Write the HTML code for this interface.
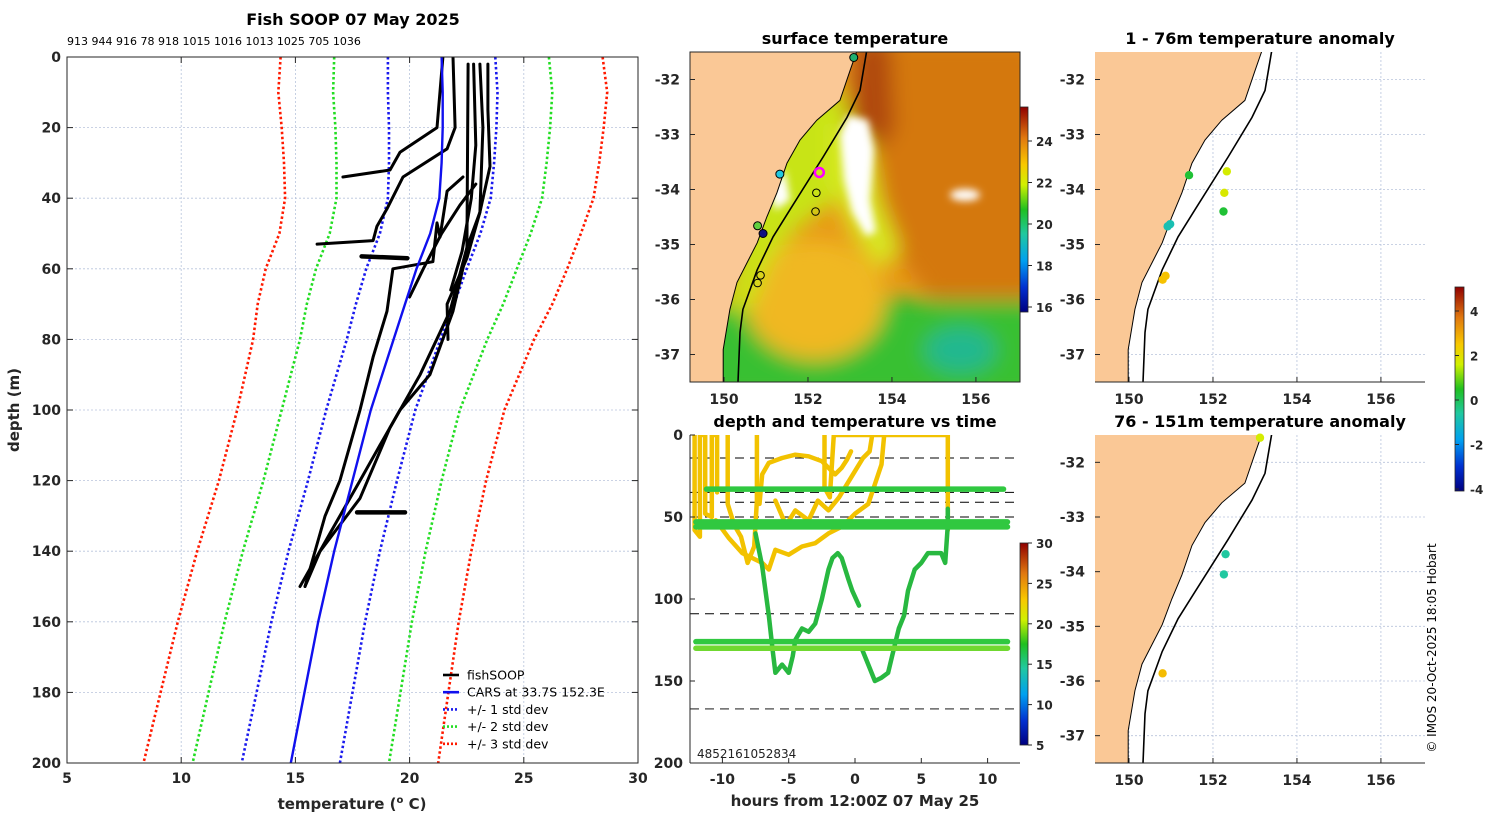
<!DOCTYPE html>
<html><head><meta charset="utf-8">
<style>
html,body{margin:0;padding:0;background:#fff;}
svg{display:block;font-family:"DejaVu Sans","Liberation Sans",sans-serif;}
.tk{font-size:14px;font-weight:bold;fill:#262626;}
.ttl{font-size:16px;font-weight:bold;fill:#000;}
.lab{font-size:15px;font-weight:bold;fill:#262626;}
</style></head>
<body>
<svg id="fig" width="1500" height="820" viewBox="0 0 1500 820" xmlns="http://www.w3.org/2000/svg">
<defs>
<clipPath id="clipP"><rect x="67" y="57" width="571" height="706"/></clipPath>
<clipPath id="clipSST"><rect x="690" y="52" width="330" height="330"/></clipPath>
<clipPath id="clipA1"><rect x="1095" y="52" width="330" height="330"/></clipPath>
<clipPath id="clipA2"><rect x="1095" y="435" width="330" height="328"/></clipPath>
<clipPath id="clipT"><rect x="690" y="435" width="330" height="328"/></clipPath>
<filter id="blur8"><feGaussianBlur stdDeviation="10"/></filter>
<filter id="blur4"><feGaussianBlur stdDeviation="4"/></filter>
<linearGradient id="sstBar" x1="0" y1="1" x2="0" y2="0">
<stop offset="0" stop-color="#000080"/><stop offset="0.12" stop-color="#0030d0"/><stop offset="0.25" stop-color="#00a0f0"/><stop offset="0.38" stop-color="#20c8a0"/><stop offset="0.5" stop-color="#20c020"/><stop offset="0.62" stop-color="#d0f000"/><stop offset="0.72" stop-color="#f8c800"/><stop offset="0.85" stop-color="#e07810"/><stop offset="1" stop-color="#900000"/>
</linearGradient>
</defs>
<g id="root"></g>
</svg>
<script>
// ---------------- data ----------------
const depthTicks=[0,20,40,60,80,100,120,140,160,180,200];
const tempTicks=[5,10,15,20,25,30];
const carsDepth=[0,10,20,30,40,50,60,70,80,90,100,120,140,160,180,200];
const carsTemp=[21.4,21.45,21.45,21.4,21.3,20.9,20.3,19.8,19.3,18.8,18.3,17.5,16.7,16.0,15.4,14.8];
const carsStd=[2.35,2.4,2.35,2.3,2.25,2.2,2.2,2.15,2.05,2.0,1.95,1.95,2.0,2.05,2.1,2.15];
const castIds="913 944 916 78 918 1015 1016 1013 1025 705 1036";
const prof1T=[21.46,21.2,19.58,19.14,17.08];const prof1D=[0,20,27,32,34];
const prof2T=[21.9,21.99,21.64,19.71,19.01,18.57,18.4,15.95];const prof2D=[0,20,26,34,43,48,52,53];
const prof3T=[22.56,22.51,21.9,20.89,19.58,18.7,17.83,16.51,15.64,15.2];const prof3D=[2,55,72,90,100,110,120,135,145,150];
const prof4T=[23.08,23.21,23.08,22.51,21.77,20.46,19.14,17.83,16.08,15.42];const prof4D=[2,20,44,54,72,90,105,125,140,150];
const prof5T=[23.43,23.43,23.52,23.08,22.51,21.64,21.68];const prof5D=[2,15,31,44,57,70,80];
const prof6T=[22.34,21.64,21.33,21.2,21.02,19.27,19.01,18.4,17.83,16.95,16.3,15.42];const prof6D=[34,38,51,47,58,60,72,85,100,120,130,150];
const prof7T=[17.9,19.9];const prof7D=[56.5,57];
const prof8T=[17.7,19.8];const prof8D=[129,129];
const prof9T=[22.8,22.9,22.7,22.3,21.8];const prof9D=[2,25,40,55,66];
const prof10T=[22.9,22.2,21.4,20.6,20.0];const prof10D=[36,42,50,60,68];
// time-depth panel
const hourTicks=[-10,-5,0,5,10];
const tdDepthTicks=[0,50,100,150,200];
const dashDepths=[14,35,41,50,109];
const dashGrey=[167];
const bandDepths=[33,53,56,126,130];
const bandStartH=[-11.2,-12,-12,-12,-12];
const bandEndH=[11.2,11.5,11.5,11.5,11.5];
const greenAH=[-7.5,-7,-6.5,-6.2,-6,-5.5,-5,-4.7,-4.5,-4,-3.5,-3,-2.5,-2,-1.7,-1.3,-1,-0.5,-0.2,0.3];
const greenAD=[60,80,110,132,145,140,145,135,125,118,120,115,100,82,75,72,75,88,95,104];
const greenBH=[0.5,1,1.5,2,2.5,3,3.3,3.7,4,4.5,5,5.5,6,6.5,6.8,7,7];
const greenBD=[130,140,150,148,145,128,118,110,95,82,78,72,72,72,78,55,45];
const yellowAH=[-12.1,-12.1,-11.7,-11.7,-11.3,-11.3,-10.8,-10.8,-10.4,-10.4];
const yellowAD=[0,58,62,0,0,48,50,0,0,35];
const yellowBH=[-9.6,-9.6,-9.1,-8.6,-8.1,-7.6,-7.4,-7.4];
const yellowBD=[0,42,55,62,78,68,40,0];
const yellowCH=[-7.2,-7,-6.5,-5.5,-4.5,-3.5,-2.5,-2,-1.5,-1,-0.6,-0.3];
const yellowCD=[42,24,17,14,12,13,16,20,24,20,15,10];
const yellowDH=[-10.5,-9.5,-8.5,-7.5,-7,-6.5,-6,-5,-4,-3,-2,-1,0,1,1.5,2,2.2];
const yellowDD=[52,63,72,76,78,82,70,73,68,66,60,56,48,42,30,18,0];
const yellowEH=[-6,-5.2,-4.5,-3.5,-2.8,-2,-1.2,-0.6,0,0.6,1.1,1.3];
const yellowED=[40,55,46,52,40,46,38,30,22,14,10,0];
const yellowFH=[-2.3,-2.3,-1.9,-1.6,7,7];
const yellowFD=[0,32,38,0,0,58];
// maps
const coastLon=[153.17,153.0,152.76,152.21,151.81,151.5,151.26,151.02,150.79,150.55,150.31,150.14,149.98,149.98];
const coastLat=[-31.47,-31.84,-32.38,-32.74,-33.10,-33.52,-34.06,-34.5,-34.97,-35.33,-35.69,-36.18,-36.91,-37.55];
const isoLon=[153.4,153.24,152.93,152.36,151.57,151.17,150.79,150.45,150.38,150.33];
const isoLat=[-31.47,-32.2,-32.69,-33.41,-34.37,-34.86,-35.46,-36.18,-36.6,-37.55];
const lonTicks=[150,152,154,156];
const latTicks=[-32,-33,-34,-35,-36,-37];
const sstDotLon=[153.09,151.33,150.8,150.93];
const sstDotLat=[-31.6,-33.72,-34.66,-34.8];
const sstDotCol=["#20b070","#20c8e0","#60d040","#101080"];
const sstRingLon=[152.27,152.2,152.18,150.87,150.8];
const sstRingLat=[-33.69,-34.06,-34.4,-35.56,-35.7];
const sstRingCol=["#ff00ff","#000","#000","#000","#000"];
const sstTicks=[16,18,20,22,24];
const anomTicks=[-4,-2,0,2,4];
const a1Lon=[152.33,151.43,152.27,152.25,150.98,150.92,150.87,150.8];
const a1Lat=[-33.67,-33.74,-34.06,-34.4,-34.63,-34.67,-35.57,-35.64];
const a1Val=[1.5,0,1.6,0,-1.3,-1.3,2.5,2.5];
const a2Lon=[153.12,152.3,152.26,150.8];
const a2Lat=[-31.55,-33.68,-34.05,-35.86];
const a2Val=[1.5,-1.0,-1.0,2.6];

// ------------- helpers -------------
const NS="http://www.w3.org/2000/svg";
const root=document.getElementById('root');
function el(tag,attrs,parent){const e=document.createElementNS(NS,tag);for(const k in attrs)e.setAttribute(k,attrs[k]);(parent||root).appendChild(e);return e;}
function txt(x,y,s,cls,anchor,parent){const t=el('text',{x:x,y:y,class:cls,'text-anchor':anchor||'middle'},parent);t.textContent=s;return t;}
function jet(v,lo,hi){const f=Math.max(0,Math.min(1,(v-lo)/(hi-lo)));
 const stops=[[0,[0,0,128]],[0.12,[0,48,208]],[0.25,[0,160,240]],[0.38,[32,200,160]],[0.5,[32,192,32]],[0.62,[208,240,0]],[0.72,[248,200,0]],[0.85,[224,120,16]],[1,[144,0,0]]];
 for(let i=1;i<stops.length;i++){if(f<=stops[i][0]){const a=stops[i-1],b=stops[i];const t=(f-a[0])/(b[0]-a[0]);const c=a[1].map((v,j)=>Math.round(v+(b[1][j]-v)*t));return `rgb(${c[0]},${c[1]},${c[2]})`;}}
 return 'rgb(144,0,0)';}

// ------------- main profile chart -------------
const PX0=67,PX1=638,PY0=57,PY1=763;
const xT=t=>PX0+(t-5)/25*(PX1-PX0);
const yD=d=>PY0+d/200*(PY1-PY0);
const gMain=el('g',{});


const gGrid=el('g',{},gMain);


tempTicks.forEach(t=>{if(t>5&&t<30)el('line',{x1:xT(t),x2:xT(t),y1:PY0,y2:PY1,stroke:'#b8c4dc','stroke-width':0.8,'stroke-dasharray':'2,2'},gGrid);});
depthTicks.forEach(d=>{if(d>0&&d<200)el('line',{x1:PX0,x2:PX1,y1:yD(d),y2:yD(d),stroke:'#b8c4dc','stroke-width':0.8,'stroke-dasharray':'2,2'},gGrid);});
const gS=el('g',{'clip-path':'url(#clipP)'},gMain);
function profPath(T,D){return T.map((t,i)=>(i?'L':'M')+xT(t).toFixed(1)+','+yD(D[i]).toFixed(1)).join(' ');}
[[3,'#ff1a00','std3'],[2,'#22dd22','std2'],[1,'#1a1aee','std1']].forEach(([k,c,n])=>{
 [-1,1].forEach(s=>{const p=el('path',{d:profPath(carsTemp.map((t,i)=>t+s*k*carsStd[i]),carsDepth),fill:'none',stroke:c,'stroke-width':2.6,'stroke-dasharray':'2.5,2.5'},gS);
 
 });
});
const profs=[[prof1T,prof1D],[prof2T,prof2D],[prof3T,prof3D],[prof4T,prof4D],[prof5T,prof5D],[prof6T,prof6D],[prof7T,prof7D],[prof8T,prof8D],[prof9T,prof9D],[prof10T,prof10D]];
profs.forEach((p,i)=>{const e=el('path',{d:profPath(p[0],p[1]),fill:'none',stroke:'#000','stroke-width':(i>=6&&i<=7)?4.5:3,'stroke-linejoin':'round','stroke-linecap':'round'},gS);
 
 });
const carsLine=el('path',{d:profPath(carsTemp,carsDepth),fill:'none',stroke:'#1010ee','stroke-width':2.4},gS);


el('rect',{x:PX0,y:PY0,width:PX1-PX0,height:PY1-PY0,fill:'none',stroke:'#262626','stroke-width':1},gMain);
depthTicks.forEach(d=>{el('line',{x1:PX0,x2:PX0+6,y1:yD(d),y2:yD(d),stroke:'#262626'},gMain);el('line',{x1:PX1,x2:PX1-6,y1:yD(d),y2:yD(d),stroke:'#262626'},gMain);txt(PX0-6,yD(d)+5,String(d),'tk','end',gMain);});
tempTicks.forEach(t=>{el('line',{x1:xT(t),x2:xT(t),y1:PY1,y2:PY1-6,stroke:'#262626'},gMain);el('line',{x1:xT(t),x2:xT(t),y1:PY0,y2:PY0+6,stroke:'#262626'},gMain);txt(xT(t),PY1+20,String(t),'tk','middle',gMain);});
const mt=txt(353,26,'Fish SOOP 07 May 2025','ttl','middle',gMain);mt.setAttribute('y','26');
mt.setAttribute('y','25');
const ci=txt(67,45,castIds,'','start',gMain);ci.setAttribute('style','font-size:11px;fill:#000');
const xl=el('text',{x:352,y:809,class:'lab','text-anchor':'middle'},gMain);xl.innerHTML='temperature (<tspan font-size="10" dy="-6">o</tspan><tspan dy="6"> C)</tspan>';
const yl=txt(0,0,'depth (m)','lab','middle',gMain);yl.setAttribute('transform','translate(19,410) rotate(-90)');
// legend
const gL=el('g',{},gMain);
const legItems=[['fishSOOP','#000',null],['CARS at 33.7S 152.3E','#1010ee',null],['+/- 1 std dev','#1a1aee','2,2'],['+/- 2 std dev','#22dd22','2,2'],['+/- 3 std dev','#ff1a00','2,2']];
legItems.forEach((it,i)=>{const y=675+i*17.2;const g=el('g',{},gL);
 const a={x1:443,x2:459,y1:y,y2:y,stroke:it[1],'stroke-width':2.6};if(it[2])a['stroke-dasharray']=it[2];el('line',a,g);
 const t=txt(467,y+4.5,it[0],'','start',g);t.setAttribute('style','font-size:12.5px;fill:#000');});

// ------------- map helpers -------------
function mapper(x0,y0,w,h){const lo0=149.19,lo1=157.05,la0=-31.5,la1=-37.5;return{x:l=>x0+(l-lo0)/(lo1-lo0)*w,y:l=>y0+(la0-l)/(la0-la1)*h};}
function coastPaths(m,g,landFill){
 let d='M'+m.x(149.0)+','+m.y(-31.3);coastLon.forEach((l,i)=>{d+=' L'+m.x(l).toFixed(1)+','+m.y(coastLat[i]).toFixed(1);});d+=' L'+m.x(149.0)+','+m.y(-37.7)+' Z';
 const land=el('path',{d:d,fill:landFill,stroke:'#000','stroke-width':1},g);
 const iso=el('path',{d:isoLon.map((l,i)=>(i?'L':'M')+m.x(l).toFixed(1)+','+m.y(isoLat[i]).toFixed(1)).join(' '),fill:'none',stroke:'#000','stroke-width':1.6},g);
 }
function mapAxes(m,x0,y0,w,h,g,box){
 if(box)el('rect',{x:x0,y:y0,width:w,height:h,fill:'none',stroke:'#262626'},g);else el('line',{x1:x0,x2:x0+w,y1:y0+h,y2:y0+h,stroke:'#262626'},g);
 lonTicks.forEach(l=>{el('line',{x1:m.x(l),x2:m.x(l),y1:y0+h,y2:y0+h-5,stroke:'#262626'},g);txt(m.x(l),y0+h+22,String(l),'tk','middle',g);});
 latTicks.forEach(l=>{if(m.y(l)>y0&&m.y(l)<y0+h){el('line',{x1:x0,x2:x0+5,y1:m.y(l),y2:m.y(l),stroke:'#262626'},g);txt(x0-10,m.y(l)+5,String(l),'tk','end',g);}});}
function mapGrid(m,x0,y0,w,h,g){lonTicks.forEach(l=>el('line',{x1:m.x(l),x2:m.x(l),y1:y0,y2:y0+h,stroke:'#b8c4dc','stroke-width':0.8,'stroke-dasharray':'2,2'},g));
 latTicks.forEach(l=>el('line',{x1:x0,x2:x0+w,y1:m.y(l),y2:m.y(l),stroke:'#b8c4dc','stroke-width':0.8,'stroke-dasharray':'2,2'},g));}

// ------------- SST map -------------
const gSST=el('g',{});
const mS=mapper(690,52,330,330);
const gF=el('g',{'clip-path':'url(#clipSST)'},gSST);
el('rect',{x:690,y:52,width:330,height:330,fill:'#e89a18'},gF);
const gB=el('g',{filter:'url(#blur8)'},gF);
el('path',{d:'M850,40 L1040,40 L1040,330 L990,310 L930,300 L900,260 L880,200 L850,150 Z',fill:'#d4780c'},gB);
el('path',{d:'M855,40 L890,40 L895,130 L870,160 L850,130 Z',fill:'#b04808'},gB);
el('path',{d:'M680,310 L850,295 L940,300 L1040,300 L1040,400 L680,400 Z',fill:'#38c030'},gB);
el('ellipse',{cx:815,cy:300,rx:70,ry:60,fill:'#f0b820'},gB);
el('path',{d:'M770,110 L840,90 L855,140 L835,200 L795,230 L770,260 L750,310 L725,310 L745,220 Z',fill:'#c8e418'},gB);
el('path',{d:'M830,120 L870,140 L880,200 L900,250 L880,270 L850,230 L830,180 Z',fill:'#d8e820'},gB);
el('ellipse',{cx:960,cy:350,rx:35,ry:22,fill:'#20b890'},gB);
const gW=el('g',{filter:'url(#blur4)'},gF);
el('path',{d:'M848,115 L868,120 L874,150 L870,200 L876,232 L866,236 L852,212 L844,180 L840,135 Z',fill:'#fff'},gW);
el('path',{d:'M770,190 L785,170 L790,200 L775,210 Z',fill:'#fff'},gW);
el('ellipse',{cx:965,cy:195,rx:15,ry:6,fill:'#fff'},gW);
coastPaths(mS,gF,'#fac896');
sstDotLon.forEach((l,i)=>{const c=el('circle',{cx:mS.x(l),cy:mS.y(sstDotLat[i]),r:4,fill:sstDotCol[i],stroke:'#000','stroke-width':1},gSST);});
sstRingLon.forEach((l,i)=>{const c=el('circle',{cx:mS.x(l),cy:mS.y(sstRingLat[i]),r:i?3.8:4.5,fill:'none',stroke:sstRingCol[i],'stroke-width':i?1:2.5},gSST);});
mapAxes(mS,690,52,330,330,gSST,true);
txt(855,44,'surface temperature','ttl','middle',gSST);
// sst colorbar
const sy=v=>307-(v-16)/(24-16)*(307-141);
const cb1=el('rect',{x:1020,y:107,width:8,height:205,fill:'url(#sstBar)',stroke:'#262626','stroke-width':0.8},gSST);
sstTicks.forEach(v=>{el('line',{x1:1028,x2:1032,y1:sy(v),y2:sy(v),stroke:'#262626'},gSST);const t=txt(1036,sy(v)+5,String(v),'','start',gSST);t.setAttribute('style','font-size:12px;font-weight:bold;fill:#262626');});

// ------------- anomaly maps -------------
function anomMap(y0,h,clip,title,lons,lats,vals,nm){
 const g=el('g',{});
 const m=mapper(1095,y0,330,h);const gc=el('g',{'clip-path':clip},g);
 mapGrid(m,1095,y0,330,h,gc);coastPaths(m,gc,'#fac896');
 lons.forEach((l,i)=>{const c=el('circle',{cx:m.x(l),cy:m.y(lats[i]),r:4.2,fill:jet(vals[i],-4.8,5.2)},g);});
 mapAxes(m,1095,y0,330,h,g,false);txt(1260,y0-8,title,'ttl','middle',g);}
anomMap(52,330,'url(#clipA1)','1 - 76m temperature anomaly',a1Lon,a1Lat,a1Val,'anomaly-map-1-76m');
anomMap(435,328,'url(#clipA2)','76 - 151m temperature anomaly',a2Lon,a2Lat,a2Val,'anomaly-map-76-151m');
const ay=v=>400-v/4*(400-311);
const gCB=el('g',{});
el('rect',{x:1455,y:287,width:9,height:204,fill:'url(#sstBar)',stroke:'#262626','stroke-width':0.8},gCB);
anomTicks.forEach(v=>{el('line',{x1:1455,x2:1459,y1:ay(v),y2:ay(v),stroke:'#262626'},gCB);const t=txt(1470,ay(v)+5,String(v),'','start',gCB);t.setAttribute('style','font-size:12px;font-weight:bold;fill:#262626');});

// ------------- time-depth panel -------------
const TX=h=>855+h*13.26, TY=d=>435+d*1.64;
const gT=el('g',{});
const gTc=el('g',{'clip-path':'url(#clipT)'},gT);
dashDepths.forEach(d=>el('line',{x1:690,x2:1020,y1:TY(d),y2:TY(d),stroke:'#000','stroke-width':1,'stroke-dasharray':'9,6'},gTc));
dashGrey.forEach(d=>el('line',{x1:690,x2:1020,y1:TY(d),y2:TY(d),stroke:'#666','stroke-width':1.4,'stroke-dasharray':'9,6'},gTc));
function tPath(H,D){return H.map((h,i)=>(i?'L':'M')+TX(h).toFixed(1)+','+TY(D[i]).toFixed(1)).join(' ');}
[[yellowAH,yellowAD],[yellowBH,yellowBD],[yellowCH,yellowCD],[yellowDH,yellowDD],[yellowEH,yellowED],[yellowFH,yellowFD]].forEach(s=>{
 const p=el('path',{d:tPath(s[0],s[1]),fill:'none',stroke:'#f2c200','stroke-width':4.5,'stroke-linejoin':'round','stroke-linecap':'round'},gTc);
 });
[[greenAH,greenAD],[greenBH,greenBD]].forEach(s=>{
 const p=el('path',{d:tPath(s[0],s[1]),fill:'none',stroke:'#28b840','stroke-width':4.5,'stroke-linejoin':'round','stroke-linecap':'round'},gTc);
 });
bandDepths.forEach((d,i)=>{const p=el('line',{x1:TX(bandStartH[i]),x2:TX(bandEndH[i]),y1:TY(d),y2:TY(d),stroke:i==4?'#70d830':'#30c840','stroke-width':5.5,'stroke-linecap':'round'},gTc);
 });
el('line',{x1:690,x2:690,y1:435,y2:763,stroke:'#262626'},gT);el('line',{x1:690,x2:1020,y1:763,y2:763,stroke:'#262626'},gT);
hourTicks.forEach(h=>{el('line',{x1:TX(h),x2:TX(h),y1:763,y2:758,stroke:'#262626'},gT);txt(TX(h),784,String(h),'tk','middle',gT);});
tdDepthTicks.forEach(d=>{el('line',{x1:690,x2:695,y1:TY(d),y2:TY(d),stroke:'#262626'},gT);txt(683,TY(d)+5,String(d),'tk','end',gT);});
txt(855,427,'depth and temperature vs time','ttl','middle',gT);
txt(855,806,'hours from 12:00Z 07 May 25','lab','middle',gT);
const ov=txt(697,758,'4852161052834','','start',gT);ov.setAttribute('style','font-size:12px;fill:#222');
const cy2=v=>745-(v-5)/25*(745-543);
el('rect',{x:1020,y:543,width:8,height:202,fill:'url(#sstBar)',stroke:'#262626','stroke-width':0.8},gT);
[5,10,15,20,25,30].forEach(v=>{el('line',{x1:1028,x2:1032,y1:cy2(v),y2:cy2(v),stroke:'#262626'},gT);const t=txt(1036,cy2(v)+5,String(v),'','start',gT);t.setAttribute('style','font-size:12px;font-weight:bold;fill:#262626');});
// copyright
const cp=txt(0,0,'© IMOS 20-Oct-2025 18:05 Hobart','','middle');cp.setAttribute('transform','translate(1436,648) rotate(-90)');cp.setAttribute('style','font-size:12px;fill:#000');

</script>
</body></html>
